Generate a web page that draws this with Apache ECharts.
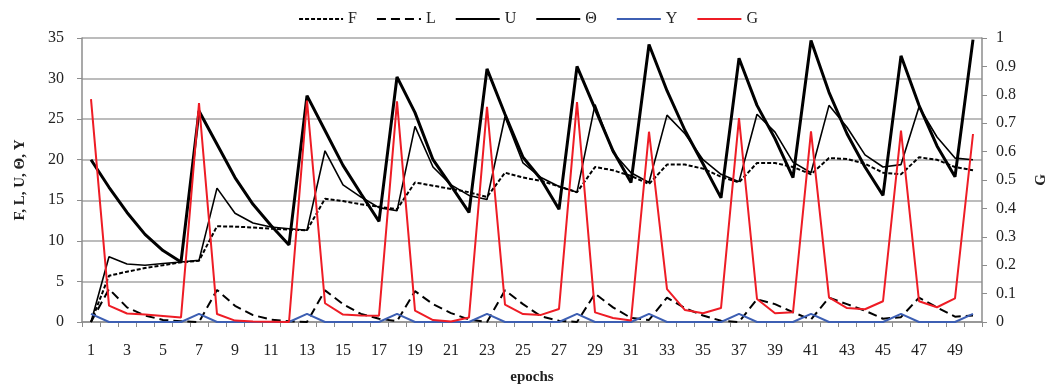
<!DOCTYPE html>
<html>
<head>
<meta charset="utf-8">
<script src="https://cdn.jsdelivr.net/npm/echarts@6/dist/echarts.min.js"></script>
<style>
  html, body { margin: 0; padding: 0; background: #fff; }
  #chart { width: 1056px; height: 388px; }
</style>
</head>
<body>
<div id="chart"></div>
<script>
// epochs 1..50
let epochs = Array.from({ length: 50 }, (v, i) => String(i + 1));

let serieF = [0, 5.7, 6.2, 6.65, 7.0, 7.35, 7.55, 11.8, 11.75, 11.65, 11.5, 11.4, 11.3,
  15.2, 14.9, 14.5, 14.2, 13.9, 17.2, 16.8, 16.4, 16.0, 15.4, 18.4, 17.8, 17.4, 16.7, 16.0,
  19.1, 18.7, 18.0, 17.0, 19.4, 19.4, 18.9, 17.9, 17.2, 19.6, 19.6, 19.1, 18.2,
  20.2, 20.1, 19.5, 18.4, 18.2, 20.3, 20.0, 19.1, 18.7];

let serieL = [0, 4.07, 1.8, 0.8, 0.25, 0.1, 0, 3.95, 2.0, 0.85, 0.3, 0.1, 0,
  3.9, 2.2, 1.0, 0.4, 0.1, 3.8, 2.2, 1.1, 0.3, 0, 3.9, 2.2, 0.7, 0.15, 0,
  3.5, 1.8, 0.5, 0.25, 3.0, 1.7, 0.8, 0.15, 0, 2.8, 2.2, 1.2, 0.3,
  3.0, 2.2, 1.4, 0.4, 0.6, 3.0, 1.8, 0.65, 0.8];

let serieU = [0, 8.05, 7.15, 7.0, 7.2, 7.4, 7.6, 16.5, 13.4, 12.2, 11.7, 11.5, 11.3,
  21.1, 16.9, 15.4, 14.1, 13.7, 24.1, 19.1, 16.9, 15.6, 15.1, 25.3, 19.6, 17.8, 16.7, 16.0,
  26.8, 20.9, 18.4, 17.2, 25.5, 23.2, 20.0, 18.2, 17.3, 25.6, 23.4, 19.7, 18.4,
  26.7, 24.0, 20.6, 19.1, 19.4, 26.5, 22.8, 20.2, 20.0];

let serieTheta = [20.0, 16.6, 13.5, 10.8, 8.8, 7.4, 26.0, 21.9, 17.8, 14.5, 11.9, 9.5,
  27.9, 23.6, 19.3, 15.8, 12.4, 30.2, 25.8, 20.0, 16.8, 13.5, 31.2, 25.6, 20.3, 17.6, 13.9,
  31.5, 26.3, 21.1, 17.2, 34.2, 28.5, 23.6, 19.5, 15.3, 32.5, 26.7, 22.6, 17.8,
  34.7, 28.3, 23.2, 19.1, 15.6, 32.8, 26.7, 21.7, 17.9, 34.8];

let serieY = [1, 0, 0, 0, 0, 0, 1, 0, 0, 0, 0, 0, 1, 0, 0, 0, 0, 1, 0, 0, 0, 0, 1, 0, 0,
  0, 0, 1, 0, 0, 0, 1, 0, 0, 0, 0, 1, 0, 0, 0, 1, 0, 0, 0, 0, 1, 0, 0, 0, 1];

let serieG = [0.785, 0.0575, 0.03, 0.026, 0.021, 0.016, 0.771, 0.028, 0.005, 0.002, 0.001, 0,
  0.78, 0.066, 0.026, 0.023, 0.022, 0.777, 0.04, 0.007, 0.002, 0.016, 0.758, 0.061, 0.028,
  0.025, 0.046, 0.774, 0.034, 0.014, 0.005, 0.67, 0.116, 0.042, 0.031, 0.049, 0.718,
  0.081, 0.031, 0.034, 0.671, 0.087, 0.049, 0.045, 0.073, 0.674, 0.073, 0.052, 0.083, 0.662];

let font = '"Liberation Serif", "DejaVu Serif", serif';
let gray = '#8c8c8c';

function lineSerie(name, data, color, width, dash, yIndex) {
  return {
    name: name,
    type: 'line',
    data: data,
    yAxisIndex: yIndex || 0,
    symbol: 'none',
    lineStyle: { color: color, width: width, type: dash || 'solid' },
    itemStyle: { color: color }
  };
}

let chart = echarts.init(document.querySelector('#chart'));

chart.setOption({
  animation: false,
  textStyle: { fontFamily: font, color: '#222' },
  legend: {
    top: 6,
    left: 'center',
    itemWidth: 44,
    itemHeight: 14,
    itemGap: 19,
    itemStyle: { opacity: 0 },
    textStyle: { fontFamily: font, fontSize: 16, color: '#222' },
    data: ['F', 'L', 'U', 'Θ', 'Y', 'G']
  },
  grid: { left: 82, right: 74, top: 38, bottom: 66, outerBoundsMode: 'none' },
  xAxis: {
    type: 'category',
    data: epochs,
    boundaryGap: true,
    name: 'epochs',
    nameLocation: 'middle',
    nameGap: 48,
    nameTextStyle: { fontFamily: font, fontSize: 15, fontWeight: 'bold', color: '#222' },
    axisLine: { lineStyle: { color: gray, width: 1.5 } },
    axisTick: { show: true, interval: 0, length: 5, lineStyle: { color: gray } },
    axisLabel: { interval: 1, margin: 21, fontFamily: font, fontSize: 16, color: '#222' },
    splitLine: { show: false }
  },
  yAxis: [
    {
      type: 'value',
      min: 0,
      max: 35,
      interval: 5,
      name: 'F, L, U, Θ, Y',
      nameLocation: 'middle',
      nameRotate: 90,
      nameGap: 54,
      nameTextStyle: { fontFamily: font, fontSize: 15, fontWeight: 'bold', color: '#222' },
      axisLine: { show: true, lineStyle: { color: gray, width: 1.5 } },
      axisTick: { show: true, length: 5, lineStyle: { color: gray } },
      axisLabel: { margin: 18, fontFamily: font, fontSize: 16, color: '#222' },
      splitLine: { show: true, lineStyle: { color: '#a6a6a6', width: 1.5 } }
    },
    {
      type: 'value',
      min: 0,
      max: 1,
      interval: 0.1,
      name: 'G',
      nameLocation: 'middle',
      nameRotate: 90,
      nameGap: 52,
      nameTextStyle: { fontFamily: font, fontSize: 15, fontWeight: 'bold', color: '#222' },
      axisLine: { show: true, lineStyle: { color: gray, width: 1.5 } },
      axisTick: { show: true, length: 5, lineStyle: { color: gray } },
      axisLabel: { margin: 14, fontFamily: font, fontSize: 16, color: '#222' },
      splitLine: { show: false }
    }
  ],
  series: [
    lineSerie('F', serieF, '#000', 2, [4, 2]),
    lineSerie('L', serieL, '#000', 2, [9, 5]),
    lineSerie('U', serieU, '#000', 1.6),
    lineSerie('Θ', serieTheta, '#000', 3),
    lineSerie('Y', serieY, '#3d5fb3', 2),
    lineSerie('G', serieG, '#ee1c25', 2, 'solid', 1)
  ]
});
</script>
</body>
</html>
